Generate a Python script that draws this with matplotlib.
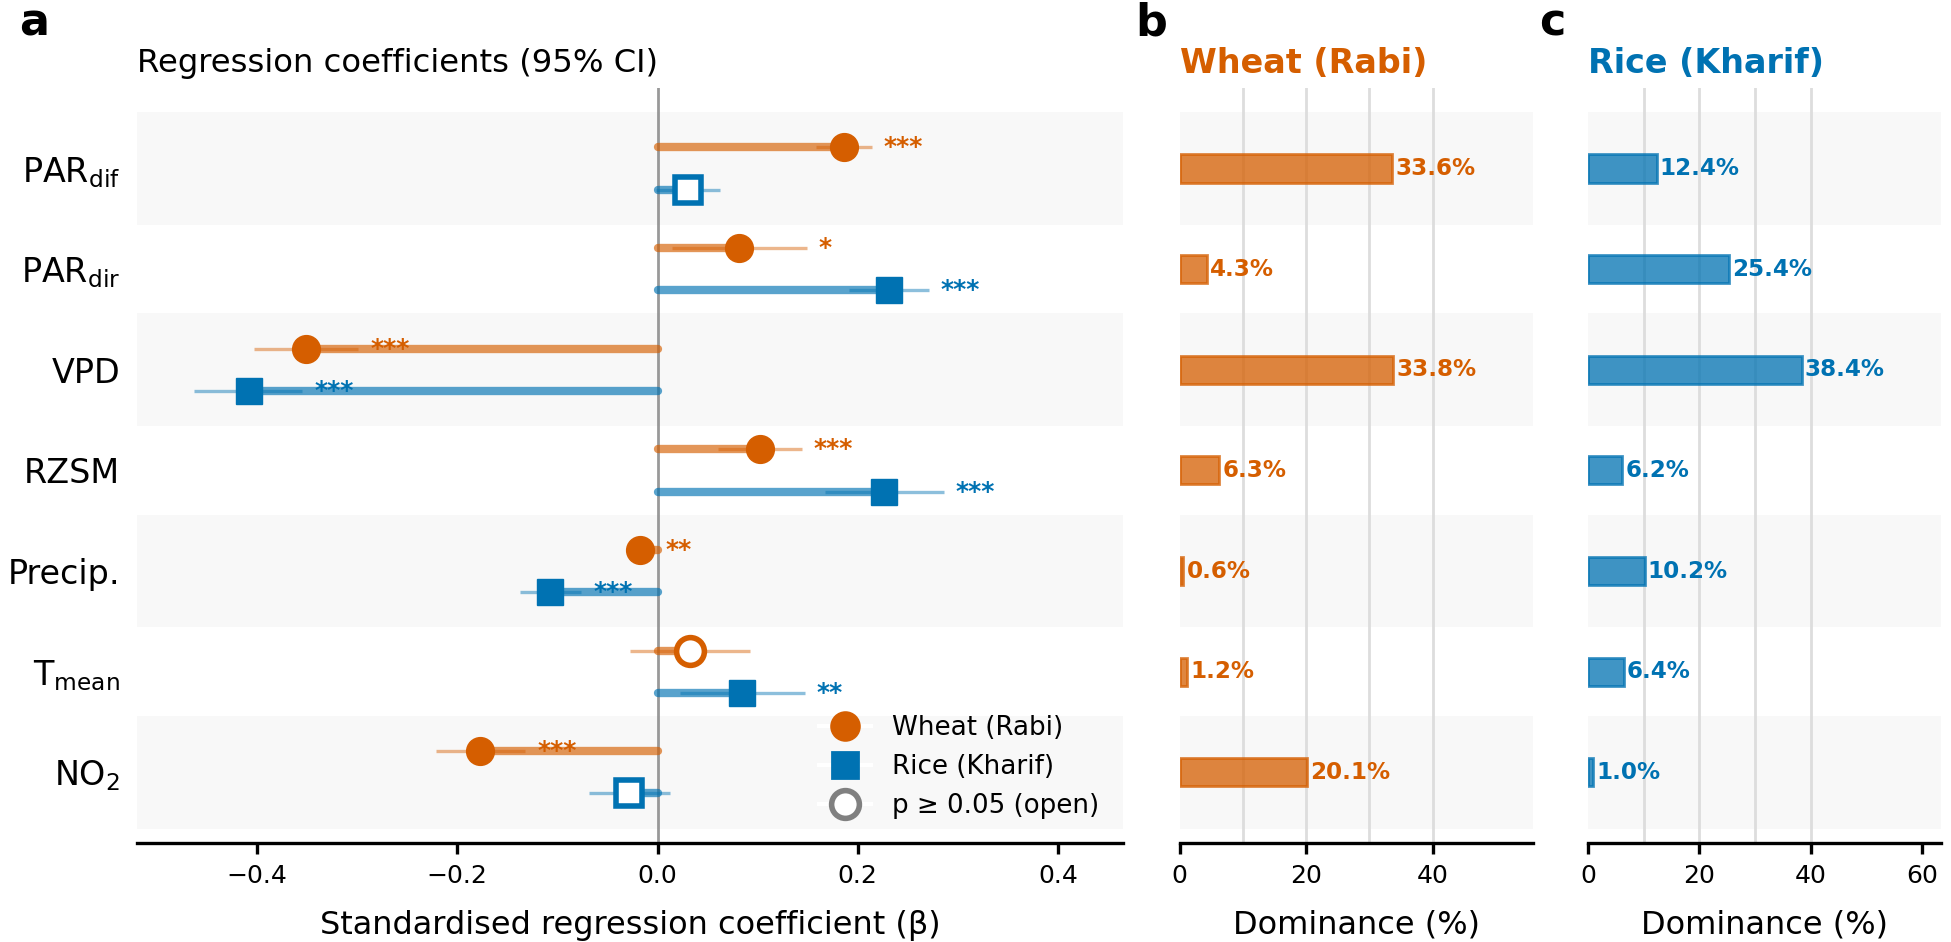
import numpy as np
import matplotlib
matplotlib.use("Agg")
import matplotlib.pyplot as plt
from matplotlib.lines import Line2D

# dati
predittori = ['PAR$_{\\mathrm{dif}}$', 'PAR$_{\\mathrm{dir}}$', 'VPD', 'RZSM', 'Precip.',
              'T$_{\\mathrm{mean}}$', 'NO$_2$']

wheat_beta = [0.186, 0.081, -0.351, 0.102, -0.017, 0.032, -0.177]
wheat_lo = [0.158, 0.014, -0.403, 0.060, -0.030, -0.027, -0.221]
wheat_hi = [0.214, 0.149, -0.299, 0.144, -0.004, 0.092, -0.132]
wheat_sig = ['***', '*', '***', '***', '**', '', '***']

rice_beta = [0.030, 0.231, -0.408, 0.226, -0.107, 0.084, -0.028]
rice_lo = [-0.002, 0.191, -0.463, 0.167, -0.137, 0.022, -0.068]
rice_hi = [0.062, 0.271, -0.355, 0.286, -0.076, 0.147, 0.012]
rice_sig = ['', '***', '***', '***', '***', '**', '']

wheat_dom = [33.6, 4.3, 33.8, 6.3, 0.6, 1.2, 20.1]
rice_dom = [12.4, 25.4, 38.4, 6.2, 10.2, 6.4, 1.0]

ARANCIO = '#D55E00'
BLU = '#0072B2'
BANDA = '#f8f8f8'

plt.rcParams['font.family'] = 'DejaVu Sans'

fig = plt.figure(figsize=(9.755, 4.71), dpi=200)
ax_a = fig.add_axes([0.0702, 0.1054, 0.5054, 0.8012])
ax_b = fig.add_axes([0.6046, 0.1054, 0.1809, 0.8012])
ax_c = fig.add_axes([0.8139, 0.1054, 0.1809, 0.8012])

y = np.arange(len(predittori))

for ax in (ax_a, ax_b, ax_c):
    for i in range(0, len(predittori), 2):
        ax.axhspan(i - 0.56, i + 0.56, color=BANDA, zorder=0, lw=0)
    ax.set_ylim(6.7, -0.8)
    for s in ('top', 'right', 'left'):
        ax.spines[s].set_visible(False)
    ax.spines['bottom'].set_linewidth(1.2)
    ax.tick_params(axis='x', length=4, width=1.2, labelsize=9)
    ax.tick_params(axis='y', length=0)

# ------------------------------
# pannello a: coefficienti
# ------------------------------
ax_a.axvline(0, color='grey', lw=1.0, alpha=0.8, zorder=1)

serie = [
    (wheat_beta, wheat_lo, wheat_hi, wheat_sig, ARANCIO, 'o', -0.21, 10),
    (rice_beta, rice_lo, rice_hi, rice_sig, BLU, 's', 0.21, 9.5),
]
for beta, lo, hi, sig, col, mk, off, ms in serie:
    for i in range(len(predittori)):
        yy = i + off
        ax_a.plot([lo[i], hi[i]], [yy, yy], color=col, lw=1.2, alpha=0.45,
                  solid_capstyle='butt', zorder=2)
        ax_a.plot([0, beta[i]], [yy, yy], color=col, lw=3, alpha=0.65,
                  solid_capstyle='round', zorder=2)
        aperto = sig[i] == ''
        ax_a.plot(beta[i], yy, marker=mk, ms=ms, color=col,
                  mfc='white' if aperto else col, mec=col,
                  mew=2 if aperto else 0.5, zorder=4)
        if sig[i]:
            ax_a.text(hi[i] + 0.012, yy, sig[i], color=col, fontsize=9,
                      fontweight='bold', ha='left', va='center', zorder=5)

ax_a.set_xlim(-0.52, 0.465)
ax_a.set_xticks([-0.4, -0.2, 0.0, 0.2, 0.4])
ax_a.set_yticks(y)
ax_a.set_yticklabels(predittori, fontsize=12)
ax_a.tick_params(axis='y', pad=6)
ax_a.set_xlabel('Standardised regression coefficient (β)', fontsize=11.5, labelpad=8)

maniglie = [
    Line2D([], [], marker='o', color='w', mfc=ARANCIO, mec=ARANCIO, ms=10, label='Wheat (Rabi)'),
    Line2D([], [], marker='s', color='w', mfc=BLU, mec=BLU, ms=9.5, label='Rice (Kharif)'),
    Line2D([], [], marker='o', color='w', mfc='white', mec='grey', mew=2, ms=10,
           label='p ≥ 0.05 (open)'),
]
ax_a.legend(handles=maniglie, loc='lower right', frameon=False, fontsize=9.4)

# ------------------------------
# pannelli b, c: dominanza
# ------------------------------
for ax, dom, col, titolo in ((ax_b, wheat_dom, ARANCIO, 'Wheat (Rabi)'),
                             (ax_c, rice_dom, BLU, 'Rice (Kharif)')):
    for g in (10, 20, 30, 40):
        ax.axvline(g, color='#dddddd', lw=1, zorder=0.5)
    ax.barh(y, dom, height=0.28, color=col, alpha=0.75, edgecolor=col, lw=1, zorder=2)
    for i, v in enumerate(dom):
        ax.text(v + 0.5, i, f'{v:.1f}%', color=col, fontsize=8.3, fontweight='bold',
                ha='left', va='center', zorder=3)
    ax.set_xlim(0, max(dom) * 1.65)
    ax.set_xticks(np.arange(0, max(dom) * 1.65, 20))
    ax.set_yticks([])
    ax.set_xlabel('Dominance (%)', fontsize=11.5, labelpad=8)
    pos = ax.get_position()
    fig.text(pos.x0, 0.933, titolo, color=col, fontsize=12, fontweight='bold',
             ha='left', va='center')

pos = ax_a.get_position()
fig.text(pos.x0, 0.933, 'Regression coefficients (95% CI)', fontsize=11.6,
         ha='left', va='center')

fig.text(0.010, 0.962, 'a', fontsize=16, fontweight='bold', va='baseline')
fig.text(0.582, 0.962, 'b', fontsize=16, fontweight='bold', va='baseline')
fig.text(0.789, 0.962, 'c', fontsize=16, fontweight='bold', va='baseline')

fig.savefig('out.png', dpi=200)
